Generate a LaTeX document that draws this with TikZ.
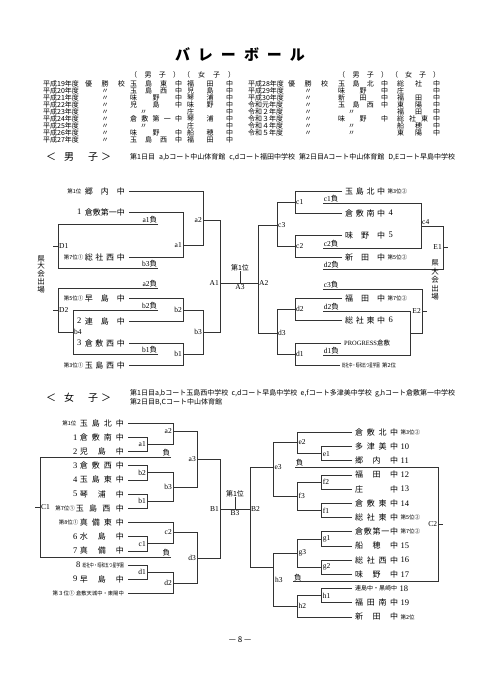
\documentclass[tikz,border=0pt]{standalone}
\usepackage{fontspec}
\usepackage{graphicx}
\setmainfont{Liberation Serif}
\newfontfamily\jp{Noto Sans CJK JP}
\usetikzlibrary{positioning}

% spread the characters of #2 over a box of width #1
\newcommand\spr[2]{\makebox[#1][s]{\sprloop#2\relax}}
\def\sprloop#1#2{#1\ifx\relax#2\else\hfill\expandafter\sprloop\expandafter#2\fi}
\newcommand\dit[1]{\makebox[#1][l]{\hspace{10pt}〃}}

\begin{document}
\begin{tikzpicture}[x=1pt, y=-1pt,
  ln/.style={line width=0.5pt, draw=black!80},
  team/.style={font=\jp\fontsize{8}{8}\selectfont, inner sep=0pt},
  tag/.style={font=\jp\fontsize{5.5}{5.5}\selectfont, inner sep=0pt},
  num/.style={font=\fontsize{8.5}{8.5}\selectfont, inner sep=0pt},
  lbl/.style={font=\fontsize{7.5}{7.5}\selectfont, inner sep=1pt},
  lose/.style={font=\fontsize{7.5}{7.5}\selectfont, inner sep=0.7pt},
  tbl/.style={font=\jp\fontsize{7}{7}\selectfont, inner sep=0pt},
  note/.style={font=\jp\fontsize{7}{7}\selectfont, inner sep=0pt},
  head/.style={font=\jp\fontsize{10}{10}\selectfont, inner sep=0pt},
  vert/.style={font=\jp\fontsize{7.5}{7.8}\selectfont, align=center, inner sep=0pt}]
\fill[white] (0,0) rectangle (480,679);
\useasboundingbox (0,0) rectangle (480,679);

% title and winners table
\node[font=\jp\bfseries\fontsize{15}{15}\selectfont, inner sep=0pt] (title) at (240,55) {\spr{130pt}{バレーボール}};
\node[tbl, anchor=west] (hb1) at (130,75) {\spr{50pt}{（男子）}};
\node[tbl, anchor=west] (hg1) at (183,75) {\spr{52pt}{（女子）}};
\node[tbl, anchor=west] (hb2) at (338,75) {\spr{50pt}{（男子）}};
\node[tbl, anchor=west] (hg2) at (391,75) {\spr{49pt}{（女子）}};
\foreach \i/\yr/\w/\bo/\gi in {
  0/平成19年度/{\spr{40pt}{優勝校}}/{\spr{52pt}{玉島東中}}/{\spr{46pt}{福田中}},
  1/平成20年度/〃/{\spr{52pt}{玉島西中}}/{\spr{46pt}{児島中}},
  2/平成21年度/〃/{\spr{52pt}{味野中}}/{\spr{46pt}{琴浦中}},
  3/平成22年度/〃/{\spr{52pt}{児島中}}/{\spr{46pt}{味野中}},
  4/平成23年度/〃/{\dit{52pt}}/{\spr{46pt}{庄中}},
  5/平成24年度/〃/{\spr{52pt}{倉敷第一中}}/{\spr{46pt}{琴浦中}},
  6/平成25年度/〃/{\dit{52pt}}/{\spr{46pt}{庄中}},
  7/平成26年度/〃/{\spr{52pt}{味野中}}/{\spr{46pt}{船穂中}},
  8/平成27年度/〃/{\spr{52pt}{玉島西中}}/{\spr{46pt}{福田中}}}{
  \node[tbl, anchor=west] (ly\i) at (43,84+7*\i) {\yr};
  \node[tbl] (lw\i) at (105,84+7*\i) {\w};
  \node[tbl, anchor=west] (lb\i) at (130,84+7*\i) {\bo};
  \node[tbl, anchor=west] (lg\i) at (187,84+7*\i) {\gi};
}
\foreach \i/\yr/\w/\bo/\gi in {
  0/平成28年度/{\spr{40pt}{優勝校}}/{\spr{50pt}{玉島北中}}/{\spr{43pt}{総社中}},
  1/平成29年度/〃/{\spr{50pt}{味野中}}/{\spr{43pt}{庄中}},
  2/平成30年度/〃/{\spr{50pt}{新田中}}/{\spr{43pt}{福田中}},
  3/令和元年度/〃/{\spr{50pt}{玉島西中}}/{\spr{43pt}{東陽中}},
  4/令和２年度/〃/{\dit{50pt}}/{\spr{43pt}{福田中}},
  5/令和３年度/〃/{\spr{50pt}{味野中}}/{\spr{43pt}{総社東中}},
  6/令和４年度/〃/{\dit{50pt}}/{\spr{43pt}{船穂中}},
  7/令和５年度/〃/{\dit{50pt}}/{\spr{43pt}{東陽中}}}{
  \node[tbl, anchor=west] (ry\i) at (248,84+7*\i) {\yr};
  \node[tbl] (rw\i) at (308,84+7*\i) {\w};
  \node[tbl, anchor=west] (rb\i) at (338,84+7*\i) {\bo};
  \node[tbl, anchor=west] (rg\i) at (397,84+7*\i) {\gi};
}

% ---------------- boys ----------------
\node[head, anchor=west] (bhead) at (46,157) {\makebox[65pt][s]{＜\hspace{8pt}男\hfill 子\hspace{3pt}＞}};
\node[note, anchor=west] (bnote) at (130,157) {\makebox[325pt][s]{第1日目 a,bコート中山体育館 c,dコート福田中学校 第2日目Aコート中山体育館 D,Eコート早島中学校}};

% left half
\node[team, anchor=east] (bKounai) at (125,191) {\spr{40pt}{郷内中}};
\node[tag, left=3pt of bKounai] (tKounai) {第1位};
\node[team, anchor=east] (bKuraI) at (125,212) {\spr{40pt}{倉敷第一中}};
\node[num, left=3pt of bKuraI] (nKuraI) {1};
\node[team, anchor=east] (bSojaW) at (125,257) {\spr{40pt}{総社西中}};
\node[tag, left=1pt of bSojaW] (tSojaW) {第7位①};
\node[team, anchor=east] (bHaya) at (125,298) {\spr{40pt}{早島中}};
\node[tag, left=1pt of bHaya] (tHaya) {第5位①};
\node[team, anchor=east] (bTsura) at (125,321) {\spr{40pt}{連島中}};
\node[num, left=3pt of bTsura] (nTsura) {2};
\node[team, anchor=east] (bKuraW) at (125,343) {\spr{40pt}{倉敷西中}};
\node[num, left=3pt of bKuraW] (nKuraW) {3};
\node[team, anchor=east] (bTamaW) at (125,365) {\spr{40pt}{玉島西中}};
\node[tag, left=1pt of bTamaW] (tTamaW) {第3位①};

\coordinate (a1) at (183,245);
\coordinate (a2) at (203,220);
\coordinate (b2) at (183,310);
\coordinate (b1) at (183,354);
\coordinate (b3) at (203,332);
\coordinate (A1) at (220,283);
\coordinate (A3) at (240,283);
\coordinate (A2) at (258,283);

\draw[ln] ([xshift=4pt]bKuraI.east) -| (a1);
\draw[ln] ([xshift=4pt]bSojaW.east) -| (a1);
\draw[ln] ([xshift=4pt]bKounai.east) -| (a2);
\draw[ln] (a1) -| (a2);
\draw[ln] ([xshift=4pt]bHaya.east) -| (b2);
\draw[ln] ([xshift=4pt]bTsura.east) -| (b2);
\draw[ln] ([xshift=4pt]bKuraW.east) -| (b1);
\draw[ln] ([xshift=4pt]bTamaW.east) -| (b1);
\draw[ln] (b2) -| (b3);
\draw[ln] (b1) -| (b3);
\draw[ln] (a2) -| (A1);
\draw[ln] (b3) -| (A1);
\draw[ln] (A1) -- (A2);
\node[lbl, anchor=east] (la1) at (a1) {a1};
\node[lbl, anchor=east] (la2) at (a2) {a2};
\node[lbl, anchor=east] (lb2) at (b2) {b2};
\node[lbl, anchor=east] (lb1) at (b1) {b1};
\node[lbl, anchor=east] (lb3) at (b3) {b3};
\node[lbl, anchor=east] (lA1) at (A1) {A1};
\node[lbl, anchor=north] (lA3) at (A3) {A3};
\node[tag, font=\jp\fontsize{7}{7}\selectfont, anchor=south] (bFirst) at (240,271) {第1位};
\draw[ln] (bFirst.south) -- (A3);
\node[lbl, anchor=west] (lA2) at (A2) {A2};

% losers, left
\coordinate (D1) at (58,246);
\coordinate (b4) at (73,332);
\coordinate (D2) at (58,310);
\node[lose, anchor=south east] (La1) at (158,224) {a1{\jp 負}};
\node[lose, anchor=south east] (Lb3) at (158,268) {b3{\jp 負}};
\node[lose, anchor=south east] (La2) at (158,288) {a2{\jp 負}};
\node[lose, anchor=south east] (Lb2) at (158,310) {b2{\jp 負}};
\node[lose, anchor=south east] (Lb1) at (158,354) {b1{\jp 負}};
\draw[ln] (La1.south east) -| (D1);
\draw[ln] (Lb3.south east) -| (D1);
\draw[ln] (Lb2.south east) -| (b4);
\draw[ln] (Lb1.south east) -| (b4);
\draw[ln] (La2.south east) -| (D2);
\draw[ln] (b4) -| (D2);
\draw[ln] (D1) -- ++(-5pt,0);
\draw[ln] (D2) -- ++(-5pt,0);
\node[lbl, anchor=west] (lD1) at (D1) {D1};
\node[lbl, anchor=west] (lD2) at (D2) {D2};
\node[lbl, anchor=west] (lb4) at (b4) {b4};
\node[vert] (bQualL) at (41,274) {県\\大\\会\\出\\場};

% right half
\node[team, anchor=west] (bTamaN) at (345,191) {\spr{40pt}{玉島北中}};
\node[tag, right=2pt of bTamaN] (tTamaN) {第3位②};
\node[team, anchor=west] (bKuraS) at (345,213) {\spr{40pt}{倉敷南中}};
\node[num, right=3pt of bKuraS] (nKuraS) {4};
\node[team, anchor=west] (bAjino) at (345,235) {\spr{40pt}{味野中}};
\node[num, right=3pt of bAjino] (nAjino) {5};
\node[team, anchor=west] (bNitta) at (345,257) {\spr{40pt}{新田中}};
\node[tag, right=2pt of bNitta] (tNitta) {第5位②};
\node[team, anchor=west] (bFuku) at (345,298) {\spr{40pt}{福田中}};
\node[tag, right=2pt of bFuku] (tFuku) {第7位②};
\node[team, anchor=west] (bSojaE) at (345,320) {\spr{40pt}{総社東中}};
\node[num, right=3pt of bSojaE] (nSojaE) {6};
\node[team, anchor=west, font=\fontsize{6.5}{6.5}\selectfont] (bProg) at (344,343) {PROGRESS{\jp 倉敷}};
\node[team, anchor=west] (bSojaS) at (342,365) {\scalebox{0.62}[1]{\fontsize{5.5}{5.5}\selectfont 総社中・昭和五つ星学園}};
\node[tag, right=2pt of bSojaS] (tSojaS) {第2位};

\coordinate (c1) at (295,202);
\coordinate (c2) at (295,246);
\coordinate (c3) at (277,225);
\coordinate (d2) at (295,309);
\coordinate (d1) at (295,354);
\coordinate (d3) at (277,333);
\draw[ln] ([xshift=-3pt]bTamaN.west) -| (c1);
\draw[ln] ([xshift=-3pt]bKuraS.west) -| (c1);
\draw[ln] ([xshift=-3pt]bAjino.west) -| (c2);
\draw[ln] ([xshift=-3pt]bNitta.west) -| (c2);
\draw[ln] ([xshift=-3pt]bFuku.west) -| (d2);
\draw[ln] ([xshift=-3pt]bSojaE.west) -| (d2);
\draw[ln] ([xshift=-3pt]bProg.west) -| (d1);
\draw[ln] ([xshift=-2pt]bSojaS.west) -| (d1);
\draw[ln] (c1) -| (c3);
\draw[ln] (c2) -| (c3);
\draw[ln] (d2) -| (d3);
\draw[ln] (d1) -| (d3);
\draw[ln] (c3) -| (A2);
\draw[ln] (d3) -| (A2);
\node[lbl, anchor=west] (lc1) at (c1) {c1};
\node[lbl, anchor=west] (lc2) at (c2) {c2};
\node[lbl, anchor=west] (lc3) at (c3) {c3};
\node[lbl, anchor=west] (ld2) at (d2) {d2};
\node[lbl, anchor=west] (ld1) at (d1) {d1};
\node[lbl, anchor=west] (ld3) at (d3) {d3};

% losers, right
\coordinate (c4) at (421,226);
\coordinate (E1) at (443,247);
\coordinate (d4) at (410,333);
\coordinate (E2) at (422,311);
\node[lose, anchor=south west] (Lc1) at (323,203) {c1{\jp 負}};
\node[lose, anchor=south west] (Lc2) at (323,248) {c2{\jp 負}};
\node[lose, anchor=south west] (Ld3) at (323,269) {d2{\jp 負}};
\node[lose, anchor=south west] (Lc3) at (323,289) {c3{\jp 負}};
\node[lose, anchor=south west] (Ld2) at (323,311) {d2{\jp 負}};
\node[lose, anchor=south west] (Ld1) at (323,355) {d1{\jp 負}};
\draw[ln] (Lc1.south west) -| (c4);
\draw[ln] (Lc2.south west) -| (c4);
\draw[ln] (c4) -| (E1);
\draw[ln] (Ld3.south west) -| (E1);
\draw[ln] (Ld2.south west) -| (d4);
\draw[ln] (Ld1.south west) -| (d4);
\draw[ln] (Lc3.south west) -| (E2);
\draw[ln] (d4) -| (E2);
\draw[ln] (E1) -- ++(5pt,0);
\draw[ln] (E2) -- ++(5pt,0);
\node[lbl, anchor=south west] (lc4) at (c4) {c4};
\node[lbl, anchor=east] (lE1) at (E1) {E1};
\node[lbl, anchor=east] (lE2) at (E2) {E2};
\node[vert, font=\jp\fontsize{7.5}{8.5}\selectfont] (bQualR) at (435,280) {県\\大\\会\\出\\場};

% ---------------- girls ----------------
\node[head, anchor=west] (ghead) at (46,398) {\makebox[65pt][s]{＜\hspace{8pt}女\hfill 子\hspace{3pt}＞}};
\node[note, anchor=west] (gnote1) at (130,393) {\makebox[325pt][s]{第1日目a,bコート玉島西中学校 c,dコート早島中学校 e,fコート多津美中学校 g,hコート倉敷第一中学校}};
\node[note, anchor=west] (gnote2) at (130,402) {第2日目B,Cコート中山体育館};

% left half
\node[team, anchor=east] (gTamaN) at (124,423) {\spr{44pt}{玉島北中}};
\node[tag, left=3pt of gTamaN] (tgTamaN) {第1位};
\node[team, anchor=east] (gKuraS) at (124,437.2) {\spr{44pt}{倉敷南中}};
\node[num, left=2pt of gKuraS] (ngKuraS) {1};
\node[team, anchor=east] (gKojima) at (124,451.4) {\spr{44pt}{児島中}};
\node[num, left=2pt of gKojima] (ngKojima) {2};
\node[team, anchor=east] (gKuraW) at (124,465.6) {\spr{44pt}{倉敷西中}};
\node[num, left=2pt of gKuraW] (ngKuraW) {3};
\node[team, anchor=east] (gTamaE) at (124,479.8) {\spr{44pt}{玉島東中}};
\node[num, left=2pt of gTamaE] (ngTamaE) {4};
\node[team, anchor=east] (gKoto) at (124,494) {\spr{44pt}{琴浦中}};
\node[num, left=2pt of gKoto] (ngKoto) {5};
\node[team, anchor=east] (gTamaW) at (124,508.2) {\spr{48pt}{玉島西中}};
\node[tag, left=0.5pt of gTamaW] (tgTamaW) {第7位①};
\node[team, anchor=east] (gMabiE) at (124,522.4) {\spr{44pt}{真備東中}};
\node[tag, left=1pt of gMabiE] (tgMabiE) {第8位①};
\node[team, anchor=east] (gMizu) at (124,536.6) {\spr{44pt}{水島中}};
\node[num, left=2pt of gMizu] (ngMizu) {6};
\node[team, anchor=east] (gMabi) at (124,550.8) {\spr{44pt}{真備中}};
\node[num, left=2pt of gMabi] (ngMabi) {7};
\node[team, anchor=east] (gSojaS) at (124,565) {\scalebox{0.68}[1]{\fontsize{5.5}{5.5}\selectfont 総社中・昭和五つ星学園}};
\node[num, left=2pt of gSojaS] (ngSojaS) {8};
\node[team, anchor=east] (gHaya) at (124,579.2) {\spr{44pt}{早島中}};
\node[num, left=2pt of gHaya] (ngHaya) {9};
\node[team, anchor=east] (gAmaki) at (124,593.4) {\fontsize{5.3}{5.3}\selectfont 倉敷天城中・東陽中};
\node[tag, left=1pt of gAmaki] (tgAmaki) {第３位①};

\coordinate (ga1) at (147,444.3);
\coordinate (ga2) at (173,431);
\coordinate (gb2) at (147,472.7);
\coordinate (gb1) at (147,501.1);
\coordinate (gb3) at (173,487);
\coordinate (ga3) at (197,459);
\coordinate (gc1) at (147,543.7);
\coordinate (gc2) at (173,532);
\coordinate (gd1) at (147,572.1);
\coordinate (gd2) at (173,583);
\coordinate (gd3) at (197,558);
\coordinate (B1) at (220,509);
\coordinate (B3) at (235,509);
\coordinate (B2) at (250,509);
\draw[ln] ([xshift=4pt]gKuraS.east) -| (ga1);
\draw[ln] ([xshift=4pt]gKojima.east) -| (ga1);
\draw[ln] ([xshift=4pt]gTamaN.east) -| (ga2);
\draw[ln] (ga1) -| (ga2);
\draw[ln] ([xshift=4pt]gKuraW.east) -| (gb2);
\draw[ln] ([xshift=4pt]gTamaE.east) -| (gb2);
\draw[ln] ([xshift=4pt]gKoto.east) -| (gb1);
\draw[ln] ([xshift=4pt]gTamaW.east) -| (gb1);
\draw[ln] (gb2) -| (gb3);
\draw[ln] (gb1) -| (gb3);
\draw[ln] (ga2) -| (ga3);
\draw[ln] (gb3) -| (ga3);
\draw[ln] ([xshift=4pt]gMizu.east) -| (gc1);
\draw[ln] ([xshift=4pt]gMabi.east) -| (gc1);
\draw[ln] ([xshift=4pt]gMabiE.east) -| (gc2);
\draw[ln] (gc1) -| (gc2);
\draw[ln] ([xshift=4pt]gSojaS.east) -| (gd1);
\draw[ln] ([xshift=4pt]gHaya.east) -| (gd1);
\draw[ln] (gd1) -| (gd2);
\draw[ln] ([xshift=4pt]gAmaki.east) -| (gd2);
\draw[ln] (gc2) -| (gd3);
\draw[ln] (gd2) -| (gd3);
\draw[ln] (ga3) -| (B1);
\draw[ln] (gd3) -| (B1);
\draw[ln] (B1) -- (B2);
\node[lbl, anchor=east] (lga1) at (ga1) {a1};
\node[lbl, anchor=east] (lga2) at (ga2) {a2};
\node[lbl, anchor=east] (lgb2) at (gb2) {b2};
\node[lbl, anchor=east] (lgb1) at (gb1) {b1};
\node[lbl, anchor=east] (lgb3) at (gb3) {b3};
\node[lbl, anchor=east] (lga3) at (ga3) {a3};
\node[lbl, anchor=east] (lgc1) at (gc1) {c1};
\node[lbl, anchor=east] (lgc2) at (gc2) {c2};
\node[lbl, anchor=east] (lgd1) at (gd1) {d1};
\node[lbl, anchor=east] (lgd2) at (gd2) {d2};
\node[lbl, anchor=east] (lgd3) at (gd3) {d3};
\node[lbl, anchor=east] (lB1) at (B1) {B1};
\node[lbl, anchor=north] (lB3) at (B3) {B3};
\node[lbl, anchor=west] (lB2) at (B2) {B2};
\node[tag, font=\jp\fontsize{7}{7}\selectfont, anchor=south] (gFirst) at (235,497) {第1位};
\draw[ln] (gFirst.south) -- (B3);

% losers, left
\coordinate (C1) at (40,507);
\node[lose, anchor=south east] (gLa) at (171,457.3) {\jp 負};
\node[lose, anchor=south east] (gLc) at (171,557.3) {\jp 負};
\draw[ln] (gLa.south east) -| (C1);
\draw[ln] (gLc.south east) -| (C1);
\draw[ln] (C1) -- ++(-5pt,0);
\node[lbl, anchor=west] (lC1) at (C1) {C1};

% right half
\node[team, anchor=west] (gKuraN) at (355,432.3) {\spr{43pt}{倉敷北中}};
\node[tag, right=2pt of gKuraN] (tgKuraN) {第3位②};
\node[team, anchor=west] (gTazu) at (355,446.5) {\spr{43pt}{多津美中}};
\node[num, right=2pt of gTazu] (ngTazu) {10};
\node[team, anchor=west] (gKounai) at (355,460.7) {\spr{43pt}{郷内中}};
\node[num, right=2pt of gKounai] (ngKounai) {11};
\node[team, anchor=west] (gFuku) at (355,474.9) {\spr{43pt}{福田中}};
\node[num, right=2pt of gFuku] (ngFuku) {12};
\node[team, anchor=west] (gSho) at (355,489.1) {\spr{43pt}{庄中}};
\node[num, right=2pt of gSho] (ngSho) {13};
\node[team, anchor=west] (gKuraE) at (355,503.3) {\spr{43pt}{倉敷東中}};
\node[num, right=2pt of gKuraE] (ngKuraE) {14};
\node[team, anchor=west] (gSojaE) at (355,517.5) {\spr{43pt}{総社東中}};
\node[tag, right=2pt of gSojaE] (tgSojaE) {第5位②};
\node[team, anchor=west] (gKuraI) at (355,531.7) {\spr{43pt}{倉敷第一中}};
\node[tag, right=2pt of gKuraI] (tgKuraI) {第7位②};
\node[team, anchor=west] (gFunao) at (355,545.9) {\spr{43pt}{船穂中}};
\node[num, right=2pt of gFunao] (ngFunao) {15};
\node[team, anchor=west] (gSojaW) at (355,560.1) {\spr{43pt}{総社西中}};
\node[num, right=2pt of gSojaW] (ngSojaW) {16};
\node[team, anchor=west] (gAjino) at (355,574.3) {\spr{43pt}{味野中}};
\node[num, right=2pt of gAjino] (ngAjino) {17};
\node[team, anchor=west] (gTsura) at (355,588.5) {\fontsize{6}{6}\selectfont 連島中・黒崎中};
\node[num, right=2pt of gTsura] (ngTsura) {18};
\node[team, anchor=west] (gFukuS) at (355,602.7) {\spr{43pt}{福田南中}};
\node[num, right=2pt of gFukuS] (ngFukuS) {19};
\node[team, anchor=west] (gNitta) at (355,616.9) {\spr{43pt}{新田中}};
\node[tag, right=2pt of gNitta] (tgNitta) {第2位};

\coordinate (ge1) at (321.7,453.6);
\coordinate (ge2) at (297.3,442);
\coordinate (gf2) at (321.7,482);
\coordinate (gf1) at (321.7,510.4);
\coordinate (gf3) at (297.3,496.2);
\coordinate (ge3) at (273.3,467.3);
\coordinate (gg1) at (321.7,538.8);
\coordinate (gg2) at (321.7,567.2);
\coordinate (gg3) at (297.3,553);
\coordinate (gh1) at (321.7,595.6);
\coordinate (gh2) at (297.3,606);
\coordinate (gh3) at (273.3,567);
\draw[ln] ([xshift=-3pt]gTazu.west) -| (ge1);
\draw[ln] ([xshift=-3pt]gKounai.west) -| (ge1);
\draw[ln] ([xshift=-3pt]gKuraN.west) -| (ge2);
\draw[ln] (ge1) -| (ge2);
\draw[ln] ([xshift=-3pt]gFuku.west) -| (gf2);
\draw[ln] ([xshift=-3pt]gSho.west) -| (gf2);
\draw[ln] ([xshift=-3pt]gKuraE.west) -| (gf1);
\draw[ln] ([xshift=-3pt]gSojaE.west) -| (gf1);
\draw[ln] (gf2) -| (gf3);
\draw[ln] (gf1) -| (gf3);
\draw[ln] (ge2) -| (ge3);
\draw[ln] (gf3) -| (ge3);
\draw[ln] ([xshift=-3pt]gKuraI.west) -| (gg1);
\draw[ln] ([xshift=-3pt]gFunao.west) -| (gg1);
\draw[ln] ([xshift=-3pt]gSojaW.west) -| (gg2);
\draw[ln] ([xshift=-3pt]gAjino.west) -| (gg2);
\draw[ln] (gg1) -| (gg3);
\draw[ln] (gg2) -| (gg3);
\draw[ln] ([xshift=-3pt]gTsura.west) -| (gh1);
\draw[ln] ([xshift=-3pt]gFukuS.west) -| (gh1);
\draw[ln] (gh1) -| (gh2);
\draw[ln] ([xshift=-3pt]gNitta.west) -| (gh2);
\draw[ln] (gg3) -| (gh3);
\draw[ln] (gh2) -| (gh3);
\draw[ln] (ge3) -| (B2);
\draw[ln] (gh3) -| (B2);
\node[lbl, anchor=west] (lge1) at (ge1) {e1};
\node[lbl, anchor=west] (lge2) at (ge2) {e2};
\node[lbl, anchor=west] (lgf2) at (gf2) {f2};
\node[lbl, anchor=west] (lgf1) at (gf1) {f1};
\node[lbl, anchor=west] (lgf3) at (gf3) {f3};
\node[lbl, anchor=west] (lge3) at (ge3) {e3};
\node[lbl, anchor=west] (lgg1) at (gg1) {g1};
\node[lbl, anchor=west] (lgg2) at (gg2) {g2};
\node[lbl, anchor=west] (lgg3) at (gg3) {g3};
\node[lbl, anchor=west] (lgh1) at (gh1) {h1};
\node[lbl, anchor=west] (lgh2) at (gh2) {h2};
\node[lbl, anchor=west] (lgh3) at (274,580) {h3};

% losers, right
\coordinate (C2) at (438.3,524);
\node[lose, anchor=south west] (gLe) at (295,467.3) {\jp 負};
\node[lose, anchor=south west] (gLh) at (293.3,581.7) {\jp 負};
\draw[ln] (gLe.south west) -| (C2);
\draw[ln] (gLh.south west) -| (C2);
\draw[ln] (C2) -- ++(5pt,0);
\node[lbl, anchor=east] (lC2) at (C2) {C2};

\node[font=\jp\fontsize{8}{8}\selectfont, inner sep=0pt] (page) at (240,640) {— 8 —};
\end{tikzpicture}
\end{document}
